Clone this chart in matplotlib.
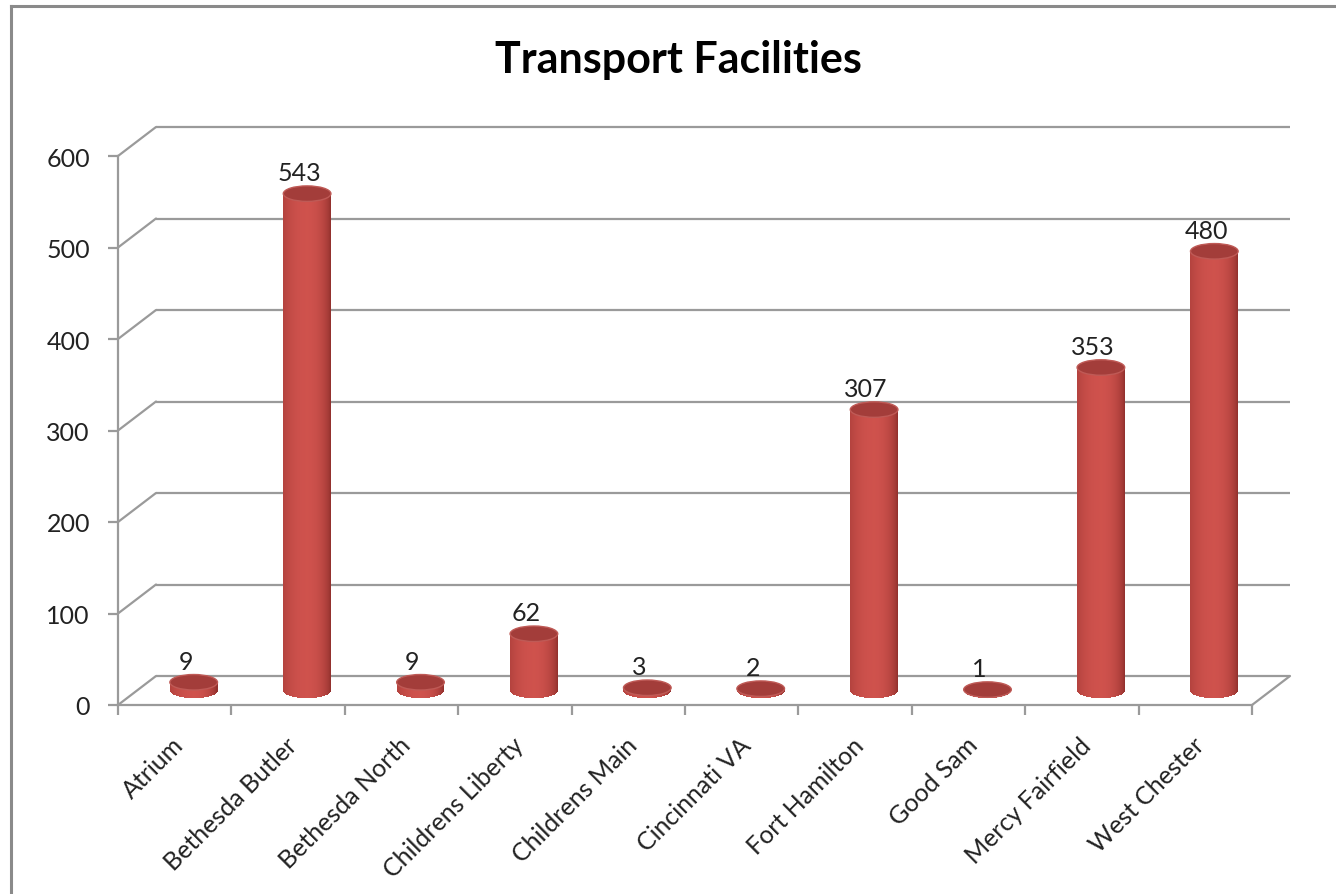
import numpy as np
import matplotlib
matplotlib.use("Agg")
import matplotlib.pyplot as plt
from matplotlib.patches import Ellipse, ConnectionPatch
from matplotlib.lines import Line2D
from matplotlib.transforms import offset_copy

categories = ["Atrium", "Bethesda Butler", "Bethesda North", "Childrens Liberty",
              "Childrens Main", "Cincinnati VA", "Fort Hamilton", "Good Sam",
              "Mercy Fairfield", "West Chester"]
values = [9, 543, 9, 62, 3, 2, 307, 1, 353, 480]
yticks = [0, 100, 200, 300, 400, 500, 600]
title = "Transport Facilities"

W, H = 1336, 895
fig = plt.figure(figsize=(W / 100, H / 100), dpi=100)
fig.patch.set_facecolor("white")
plt.rcParams["font.family"] = ["Lato", "DejaVu Sans"]

# front plane of the 3D box
L, R, B, T = 118, 1252, 706, 157
ax = fig.add_axes([L / W, (H - B) / H, (R - L) / W, (B - T) / H])
ax.set_xlim(0, len(categories))
ax.set_ylim(0, 600)
ax.patch.set_alpha(0)

grid_c = "#9a9a9a"
for s in ["top", "right"]:
    ax.spines[s].set_visible(False)
for s in ["left", "bottom"]:
    ax.spines[s].set_color(grid_c)
    ax.spines[s].set_linewidth(1.6)

ax.set_yticks(yticks)
ax.set_yticklabels([str(v) for v in yticks])
ax.set_xticks(np.arange(0, len(categories) + 1))
ax.set_xticklabels([])
ax.tick_params(axis="y", length=7.2, width=1.6, color=grid_c, pad=13,
               labelsize=18, labelcolor="#222222")
ax.tick_params(axis="x", length=7.2, width=1.6, color=grid_c)

# depth offsets (pixels)
DX, DY = 38, 29
back = offset_copy(ax.transData, fig, x=DX, y=DY, units="dots")
mid = offset_copy(ax.transData, fig, x=DX / 2, y=DY / 2, units="dots")

n = len(categories)
for yv in yticks:
    ax.plot([0, n], [yv, yv], color=grid_c, lw=1.6, transform=back,
            clip_on=False, zorder=1, solid_capstyle="butt")
    cp = ConnectionPatch(xyA=(0, yv), coordsA=ax.transData, xyB=(0, yv),
                         coordsB=back, color=grid_c, lw=1.6, zorder=1)
    ax.add_artist(cp)
cp = ConnectionPatch(xyA=(n, 0), coordsA=ax.transData, xyB=(n, 0),
                     coordsB=back, color=grid_c, lw=1.6, zorder=1)
ax.add_artist(cp)

# cylinders
w = 0.42
eh = 15.5 / ((B - T) / 600.0)  # ellipse height in data units
N = 48
us = np.linspace(-1, 1, N + 1)
uc = (us[:-1] + us[1:]) / 2
dark = np.array([0.50, 0.15, 0.14])
light = np.array([0.81, 0.32, 0.30])


def shade(u):
    if u < 0:
        f = 1 - (u / 1.35) ** 2
    else:
        f = 1 - (u / 1.02) ** 2
    f = max(f, 0) ** 0.55
    return dark + (light - dark) * f


for i, v in enumerate(values):
    xc = i + 0.5
    for u in uc:
        bot = -eh / 2 * np.sqrt(max(1 - u ** 2, 0))
        ax.bar(xc + u * w / 2, v - bot, bottom=bot, width=w / N * 1.15,
               color=shade(u), linewidth=0, transform=mid, zorder=3,
               clip_on=False)
    top = Ellipse((xc, v), w, eh, facecolor="#a33d3a", edgecolor="#bf5a56",
                  lw=1.0, transform=mid, zorder=4, clip_on=False)
    ax.add_patch(top)
    ax.annotate(str(v), (xc, v), xytext=(-8, 21), textcoords="offset pixels",
                transform=mid, xycoords=mid, ha="center", va="center",
                fontsize=18, color="#222222", annotation_clip=False)

# category labels
lab_tr = offset_copy(ax.get_xaxis_transform(), fig, x=5, y=-36, units="dots")
for i, name in enumerate(categories):
    ax.text(i + 0.5, 0, name, transform=lab_tr, rotation=45, ha="right",
            va="center", rotation_mode="anchor", fontsize=18, color="#222222")

fig.text(678 / W, 1 - 60 / H, title, ha="center", va="center",
         fontsize=31, fontweight="bold", color="black")

# outer border (top and left visible)
fig.add_artist(Line2D([11 / W, 1.0], [1 - 7 / H, 1 - 7 / H], color="#8a8a8a",
                      lw=2.2, transform=fig.transFigure))
fig.add_artist(Line2D([11 / W, 11 / W], [1 - 7 / H, 0], color="#8a8a8a",
                      lw=2.2, transform=fig.transFigure))

fig.savefig("out.png", dpi=100, facecolor="white")
